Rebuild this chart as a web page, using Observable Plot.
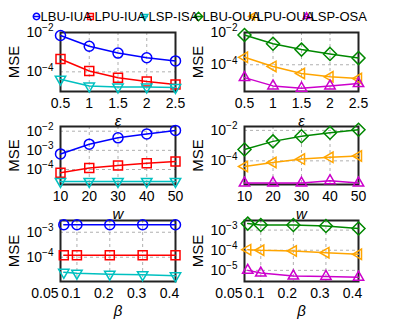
<!DOCTYPE html>
<html><head><meta charset="utf-8">
<script src="https://cdn.jsdelivr.net/npm/d3@7"></script>
<script src="https://cdn.jsdelivr.net/npm/@observablehq/plot@0.6"></script>
<style>
html,body{margin:0;padding:0;background:#fff;}
#chart{position:relative;width:399px;height:319px;overflow:hidden;font-family:"Liberation Sans",Arial,sans-serif;}
#chart svg{position:absolute;}
</style></head><body><div id="chart"></div>
<script>
// ---------- data ----------
const seriesNames = ["LBU-IUA","LPU-IUA","LSP-ISA","LBU-OUA","LPU-OUA","LSP-OSA"];
const seriesColors = ["#0000ff","#ff0000","#00c0c0","#008800","#ffa500","#cc00cc"];

const epsValues = [0.5, 1, 1.5, 2, 2.5];
const epsTicks = [0.5, 1, 1.5, 2, 2.5];
const wValues = [10, 20, 30, 40, 50];
const wTicks = [10, 20, 30, 40, 50];
const betaValues = [0.06, 0.1, 0.2, 0.3, 0.4];
const betaTicks = [0.05, 0.1, 0.2, 0.3, 0.4];

// epsilon panels
const lbuIuaEps = [7e-3, 2e-3, 9e-4, 5.2e-4, 3.6e-4];
const lpuIuaEps = [4.5e-4, 1.1e-4, 5e-5, 3.2e-5, 2.3e-5];
const lspIsaEps = [4.2e-5, 1.9e-5, 1.7e-5, 1.7e-5, 1.6e-5];
const lbuOuaEps = [7e-3, 2e-3, 8.7e-4, 4.7e-4, 2.6e-4];
const lpuOuaEps = [2.9e-4, 7.9e-5, 2.9e-5, 1.8e-5, 1.4e-5];
const lspOsaEps = [1.6e-5, 4.9e-6, 3.5e-6, 4.9e-6, 6.8e-6];
// w panels
const lbuIuaW = [6.5e-4, 2.1e-3, 4.5e-3, 7.2e-3, 1.1e-2];
const lpuIuaW = [6.7e-5, 1.2e-4, 1.6e-4, 2.1e-4, 2.6e-4];
const lspIsaW = [2.4e-5, 2.4e-5, 2.4e-5, 2.4e-5, 2.4e-5];
const lbuOuaW = [5.6e-4, 1.9e-3, 4.1e-3, 7e-3, 1.1e-2];
const lpuOuaW = [4.3e-5, 7.8e-5, 1.3e-4, 1.7e-4, 2.1e-4];
const lspOsaW = [3.5e-6, 3.5e-6, 3.5e-6, 5e-6, 3.5e-6];
// beta panels
const lbuIuaBeta = [2e-3, 2e-3, 2e-3, 2e-3, 2e-3];
const lpuIuaBeta = [1.2e-4, 1.2e-4, 1.2e-4, 1.2e-4, 1.2e-4];
const lspIsaBeta = [2.5e-5, 2.3e-5, 2.1e-5, 2e-5, 1.8e-5];
const lbuOuaBeta = [2.1e-3, 1.8e-3, 1.8e-3, 1.6e-3, 1.2e-3];
const lpuOuaBeta = [1.07e-4, 1e-4, 9.2e-5, 7.6e-5, 6.3e-5];
const lspOsaBeta = [1e-5, 7.4e-6, 5.2e-6, 5e-6, 4.6e-6];

// y axes
const yDomain1 = [1e-5, 1e-2],   yTicks1 = [1e-2, 1e-4];
const yDomain2 = [2.2e-6, 1e-2], yTicks2 = [1e-2, 1e-4];
const yDomain3 = [1.65e-5, 1.76e-2], yTicks3 = [1e-2, 1e-3, 1e-4];
const yDomain4 = [2.8e-6, 1.8e-2], yTicks4 = [1e-2, 1e-4];
const yDomain5 = [1.07e-5, 2.95e-3], yTicks5 = [1e-3, 1e-4];
const yDomain6 = [2.8e-6, 3e-3], yTicks6 = [1e-3, 1e-4, 1e-5];

// ---------- symbols ----------
const rad = s => Math.sqrt(s / Math.PI);
const symCircle = {draw(c, s){const r = rad(s); c.moveTo(r, 0); c.arc(0, 0, r, 0, 2*Math.PI);}};
const symSquare = {draw(c, s){const a = rad(s)*0.9; c.moveTo(-a,-a); c.lineTo(a,-a); c.lineTo(a,a); c.lineTo(-a,a); c.closePath();}};
const symTriDown = {draw(c, s){const r = rad(s)*1.2, h = r*Math.sqrt(3)/2; c.moveTo(0, r); c.lineTo(h, -r/2); c.lineTo(-h, -r/2); c.closePath();}};
const symDiamond = {draw(c, s){const r = rad(s)*1.3; c.moveTo(0,-r); c.lineTo(r,0); c.lineTo(0,r); c.lineTo(-r,0); c.closePath();}};
const symTriLeft = {draw(c, s){const r = rad(s)*1.2, h = r*Math.sqrt(3)/2; c.moveTo(-r, 0); c.lineTo(r/2, -h); c.lineTo(r/2, h); c.closePath();}};
const symTriUp = {draw(c, s){const r = rad(s)*1.2, h = r*Math.sqrt(3)/2; c.moveTo(0, -r); c.lineTo(h, r/2); c.lineTo(-h, r/2); c.closePath();}};
const seriesSymbols = [symCircle, symSquare, symTriDown, symDiamond, symTriLeft, symTriUp];
const withLine = sym => ({draw(c, s){sym.draw(c, s); const r = rad(s)*1.1; c.moveTo(-r, 0); c.lineTo(r, 0);}});

const FONT = '"Liberation Sans", Arial, Helvetica, sans-serif';
const chart = document.getElementById("chart");

// ---------- legend ----------
const legend = Plot.plot({
  width: 399, height: 32, margin: 0, marginLeft: 9, marginRight: 66,
  style: {background: "transparent", overflow: "visible", fontFamily: FONT},
  x: {type: "point", domain: seriesNames, axis: null},
  marks: [
    ...seriesNames.map((n, i) => Plot.dot([n], {x: d => d, r: 3.2, symbol: withLine(seriesSymbols[i]), stroke: seriesColors[i], strokeWidth: 1.5, fill: "none"})),
    Plot.text(seriesNames, {x: d => d, text: d => d, textAnchor: "start", dx: 4, fontSize: 13, fill: "#000"})
  ]
});
legend.style.left = "0px"; legend.style.top = "0px";
chart.appendChild(legend);

// ---------- panels ----------
const cols = [
  {left: 0, width: 190, marginLeft: 60, marginRight: 15},
  {left: 190, width: 209, marginLeft: 54, marginRight: 41}
];
const rows = [
  {top: 32, bottom: 91, tickShift: 0},
  {top: 126, bottom: 184, tickShift: 0},
  {top: 220, bottom: 281, tickShift: -6}
];

function panel(col, row, xs, xTicks, xDomain, xLabel, yDomain, yTicks, seriesIdx, valuesList) {
  const C = cols[col], R = rows[row];
  const mt = 12, mb = 38;
  const marks = [
    Plot.ruleX(xTicks, {stroke: "#b0b0b0", strokeDasharray: "3,3", strokeWidth: 1}),
    Plot.ruleY(yTicks, {stroke: "#b0b0b0", strokeDasharray: "3,3", strokeWidth: 1}),
    Plot.frame({stroke: "#222", strokeWidth: 2}),
    Plot.text([xLabel], {frameAnchor: "bottom", lineAnchor: "middle", textAnchor: "middle", dy: 30, fontSize: 15, fontStyle: "italic", fill: "#000"}),
    Plot.text(["MSE"], {frameAnchor: "left", lineAnchor: "middle", textAnchor: "middle", dx: -46, rotate: -90, fontSize: 15, fill: "#000"})
  ];
  seriesIdx.forEach((si, k) => {
    const rowsData = xs.map((x, j) => ({x, y: valuesList[k][j]}));
    marks.push(Plot.line(rowsData, {x: "x", y: "y", stroke: seriesColors[si], strokeWidth: 1.5}));
    marks.push(Plot.dot(rowsData, {x: "x", y: "y", stroke: seriesColors[si], strokeWidth: 1.5, fill: "none", r: 5, symbol: seriesSymbols[si]}));
  });
  const svg = Plot.plot({
    width: C.width, height: R.bottom - R.top + mt + mb,
    marginLeft: C.marginLeft, marginRight: C.marginRight, marginTop: mt, marginBottom: mb,
    style: {background: "transparent", overflow: "visible", fontFamily: FONT, fontSize: "14px", color: "#000"},
    x: {domain: xDomain, ticks: xTicks, tickFormat: d => String(d), tickSize: 0, tickPadding: 7, label: null},
    y: {type: "log", domain: yDomain, ticks: yTicks, tickFormat: d => "10^" + Math.round(Math.log10(d)), tickSize: 0, tickPadding: 7, label: null},
    marks
  });
  const xTickStrings = new Set(xTicks.map(String));
  d3.select(svg).selectAll("text").each(function() {
    const t = this.textContent;
    if (/^10\^/.test(t)) {
      const exp = t.slice(3).replace("-", "\u2212");
      this.textContent = "";
      const s = d3.select(this);
      s.append("tspan").text("10");
      s.append("tspan").attr("dy", "-0.55em").attr("font-size", "10px").text(exp);
    } else if (xTickStrings.has(t) && R.tickShift) {
      const s = d3.select(this);
      if (t === String(xTicks[0])) {
        s.attr("text-anchor", "end").attr("dx", -2);
      } else {
        s.attr("dx", R.tickShift);
      }
    }
  });
  svg.style.left = C.left + "px";
  svg.style.top = (R.top - mt) + "px";
  chart.appendChild(svg);
}

panel(0, 0, epsValues, epsTicks, [0.5, 2.5], "ε", yDomain1, yTicks1, [0,1,2], [lbuIuaEps, lpuIuaEps, lspIsaEps]);
panel(1, 0, epsValues, epsTicks, [0.5, 2.5], "ε", yDomain2, yTicks2, [3,4,5], [lbuOuaEps, lpuOuaEps, lspOsaEps]);
panel(0, 1, wValues, wTicks, [10, 50], "w", yDomain3, yTicks3, [0,1,2], [lbuIuaW, lpuIuaW, lspIsaW]);
panel(1, 1, wValues, wTicks, [10, 50], "w", yDomain4, yTicks4, [3,4,5], [lbuOuaW, lpuOuaW, lspOsaW]);
panel(0, 2, betaValues, betaTicks, [0.05, 0.4], "β", yDomain5, yTicks5, [0,1,2], [lbuIuaBeta, lpuIuaBeta, lspIsaBeta]);
panel(1, 2, betaValues, betaTicks, [0.05, 0.4], "β", yDomain6, yTicks6, [3,4,5], [lbuOuaBeta, lpuOuaBeta, lspOsaBeta]);
</script>
</body></html>
